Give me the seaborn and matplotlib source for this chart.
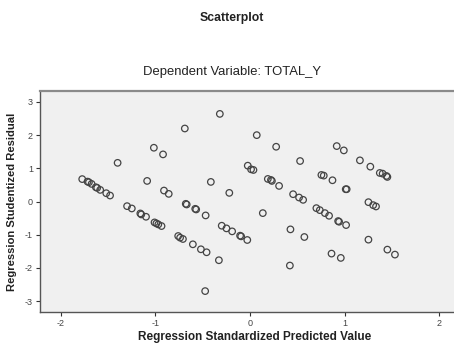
import matplotlib
matplotlib.use("Agg")
import matplotlib.pyplot as plt
import seaborn as sns
import pandas as pd

pred = [-1.774, -1.718, -1.703, -1.675, -1.63, -1.616, -1.584, -1.52, -1.48, -1.40,
        -1.30, -1.25, -1.16, -1.15, -1.10, -1.088, -1.017, -1.01, -0.99, -0.97,
        -0.936, -0.92, -0.91, -0.86, -0.76, -0.74, -0.71, -0.69, -0.68, -0.67,
        -0.605, -0.58, -0.57, -0.52, -0.47, -0.46, -0.475, -0.415, -0.33, -0.32,
        -0.30, -0.25, -0.22, -0.19, -0.106, -0.095, -0.03, -0.025, 0.01, 0.035,
        0.07, 0.134, 0.187, 0.22, 0.23, 0.275, 0.306, 0.426, 0.42, 0.454,
        0.517, 0.56, 0.528, 0.573, 0.70, 0.736, 0.79, 0.834, 0.753, 0.778,
        0.87, 0.86, 0.915, 0.93, 0.94, 0.99, 0.958, 1.014, 1.01, 1.02,
        1.16, 1.27, 1.25, 1.30, 1.33, 1.25, 1.37, 1.40, 1.44, 1.45,
        1.45, 1.53]
resid = [0.675, 0.60, 0.58, 0.53, 0.43, 0.41, 0.35, 0.25, 0.18, 1.165,
         -0.14, -0.21, -0.36, -0.39, -0.46, 0.62, 1.62, -0.63, -0.66, -0.69,
         -0.74, 1.42, 0.33, 0.23, -1.04, -1.09, -1.13, 2.20, -0.07, -0.09,
         -1.29, -0.22, -0.24, -1.44, -0.42, -1.53, -2.70, 0.59, -1.77, 2.64,
         -0.73, -0.81, 0.26, -0.90, -1.03, -1.05, -1.16, 1.08, 0.97, 0.95,
         2.00, -0.35, 0.68, 0.65, 0.62, 1.65, 0.47, -0.84, -1.93, 0.22,
         0.12, 0.05, 1.22, -1.07, -0.20, -0.26, -0.35, -0.43, 0.80, 0.78,
         0.64, -1.57, 1.67, -0.59, -0.61, 1.54, -1.70, -0.71, 0.37, 0.37,
         1.24, 1.05, -0.02, -0.11, -0.15, -1.15, 0.86, 0.84, 0.77, 0.74,
         -1.45, -1.60]

xticks = [-2, -1, 0, 1, 2]
yticks = [-3, -2, -1, 0, 1, 2, 3]

sns.set_style("white")
plt.rcParams['font.family'] = ['Liberation Sans', 'DejaVu Sans']

df = pd.DataFrame({"pred": pred, "resid": resid})

fig = plt.figure(figsize=(4.54, 3.49), dpi=100)
ax = fig.add_axes([40 / 454, 1 - 312 / 349, (454 - 40) / 454, (312 - 91) / 349])
ax.set_facecolor("#f0f0f0")

sns.scatterplot(data=df, x="pred", y="resid", ax=ax, s=22, marker="o",
                facecolors="none", edgecolor="#444444", linewidth=0.9)

ax.set_xlim(-2.22, 2.154)
ax.set_ylim(-3.33, 3.33)
ax.set_xticks(xticks)
ax.set_yticks(yticks)
ax.set_xticklabels([str(t) for t in xticks])
ax.set_yticklabels([str(t) for t in yticks])
ax.tick_params(axis="both", which="both", direction="out", length=3, width=0.8,
               color="#333333", labelsize=6.5, labelcolor="#444444", pad=2,
               bottom=True, left=True)
for side in ["left", "bottom"]:
    ax.spines[side].set_color("#555555")
    ax.spines[side].set_linewidth(1.0)
ax.spines["top"].set_color("#8a8a8a")
ax.spines["top"].set_linewidth(1.6)
ax.spines["right"].set_visible(False)

ax.set_xlabel("Regression Standardized Predicted Value", fontsize=8.5,
              fontweight="bold", color="#222222", labelpad=5)
ax.xaxis.set_label_coords((255 - 40) / 414, -0.085)
ax.set_ylabel("Regression Studentized Residual", fontsize=8.1,
              fontweight="bold", color="#222222", labelpad=6)

fig.text(232 / 454, 1 - 18 / 349, "Scatterplot", ha="center", va="center",
         fontsize=8.8, fontweight="bold", color="#222222")
fig.text(232 / 454, 1 - 72 / 349, "Dependent Variable: TOTAL_Y", ha="center",
         va="center", fontsize=9.4, fontweight="medium", color="#222222")

fig.savefig("out.png", dpi=100)
